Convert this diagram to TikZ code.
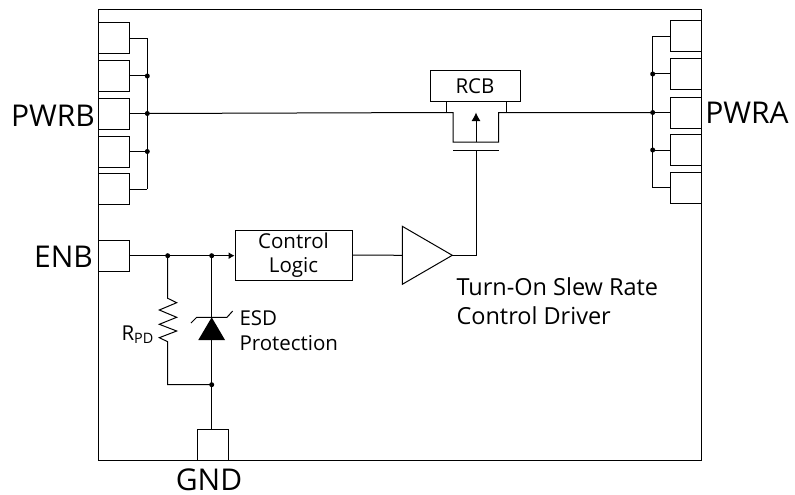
\documentclass[tikz,border=0pt]{standalone}
\usepackage{fontspec}
\setmainfont{Open Sans}
\usetikzlibrary{arrows.meta,shapes.geometric}
\tikzset{
    pad/.style={draw,minimum width=31pt,minimum height=31pt,inner sep=0pt},
    jdot/.style={circle,fill=black,inner sep=0pt,minimum size=5pt},
    biglabel/.style={font=\fontsize{30}{30}\selectfont,inner sep=0pt},
    smalllabel/.style={font=\fontsize{20.5}{25}\selectfont,inner sep=0pt,align=left,anchor=west},
}
\begin{document}
\begin{tikzpicture}[x=1pt,y=-1pt,line width=1pt]
    \useasboundingbox (0,0) rectangle (795,495);
    \node[draw,line width=1pt,minimum width=603pt,minimum height=451pt,inner sep=0pt] (chip) at (399.5,235) {};
    % left pads
    \foreach \n/\y in {1/38.5,2/76,3/113.5,4/151.5,5/189}{
        \node[pad] (pb\n) at (113.5,\y) {};
        \coordinate (bb\n) at (147.3,\y);
    }
    \foreach \n in {1,...,5} \draw (pb\n) -- (bb\n);
    \draw (bb1) -- (bb5);
    \foreach \n in {2,3,4} \node[jdot] at (bb\n) {};
    % right pads
    \foreach \n/\y in {1/36.5,2/74,3/112.5,4/150,5/187.5}{
        \node[pad] (pa\n) at (685.5,\y) {};
        \coordinate (ba\n) at (652.7,\y);
    }
    \foreach \n in {1,...,5} \draw (pa\n) -- (ba\n);
    \draw (ba1) -- (ba5);
    \foreach \n in {2,3,4} \node[jdot] at (ba\n) {};
    % mosfet
    \node[draw,minimum width=90pt,minimum height=31pt,inner sep=0pt,font=\fontsize{20.5}{20}\selectfont] (rcb) at (475,86.2) {RCB};
    \coordinate (sl) at (446,112.5);
    \coordinate (sr) at (506,112.5);
    \coordinate (dl) at (453,112.5);
    \coordinate (dr) at (498.5,112.5);
    \coordinate (cl) at (453,142);
    \coordinate (cr) at (498.5,142);
    \coordinate (cm) at (476,142);
    \coordinate (tm) at (476,112.5);
    \coordinate (gl) at (453,150.3);
    \coordinate (gr) at (498.5,150.3);
    \coordinate (gm) at (476,150.3);
    \draw (bb3) -- (sl) -- (dl) -- (cl) -- (cr) -- (dr) -- (sr) -- (ba3);
    \draw (sl) -- (sl|-rcb.south);
    \draw (sr) -- (sr|-rcb.south);
    \draw[-{Latex[length=8.5pt,width=9pt]}] (cm) -- (tm);
    \draw (gl) -- (gr);
    % enable path
    \node[pad] (enb) at (113.5,256) {};
    \node[draw,minimum width=117pt,minimum height=50pt,inner sep=0pt,align=center,font=\fontsize{20.5}{24}\selectfont] (logic) at (293.5,255) {Control\\Logic};
    \node[draw,isosceles triangle,isosceles triangle apex angle=60,minimum height=50pt,inner sep=0pt,outer sep=0pt,isosceles triangle stretches,minimum width=58pt,anchor=lower side] (amp) at (402.3,255.3) {};
    \coordinate (gout) at (476,255.3);
    \coordinate (n1) at (167.7,255.7);
    \coordinate (n2) at (211.7,255.7);
    \coordinate (n3) at (211.7,384.7);
    \coordinate (n4) at (167.7,384.7);
    \draw[-{Latex[length=6pt,width=7pt]}] (enb.east|-n1) -- (logic.west|-n1);
    \draw (logic.east) -- (amp.lower side);
    \draw (amp.apex) -- (gout) -- (gm);
    \node[jdot] at (n1) {};
    \node[jdot] at (n2) {};
    \node[jdot] at (n3) {};
    % resistor
    \draw (n1) -- (167.7,298.3) -- (176.7,302.7) -- (159.3,310) -- (176.7,317.3) -- (159.3,324.3) -- (176.7,331) -- (159.3,337.7) -- (167.7,341.7) -- (n4) -- (n3);
    % esd clamp
    \node[pad] (gnd) at (212.5,444.5) {};
    \draw (n2) -- (n3) -- (n3|-gnd.north);
    \fill (211.7,317.3) -- (225,340) -- (198.3,340) -- cycle;
    \draw (191,323) -- (196.7,317.3) -- (227,317.3) -- (232.7,311);
    % labels
    \node[biglabel] (pwrb) at (53,116) {PWRB};
    \node[biglabel] (pwra) at (747,113) {PWRA};
    \node[biglabel] (enbl) at (63.5,256.5) {ENB};
    \node[biglabel] (gndl) at (209,479.5) {GND};
    \node[smalllabel] (rpd) at (121,335) {R\textsubscript{PD}};
    \node[smalllabel] (esd) at (239,318) {ESD};
    \node[smalllabel] (prot) at (239,343.5) {Protection};
    \node[smalllabel,font=\fontsize{23.5}{29}\selectfont] (drv) at (456,301) {Turn-On Slew Rate\\Control Driver};
\end{tikzpicture}
\end{document}
